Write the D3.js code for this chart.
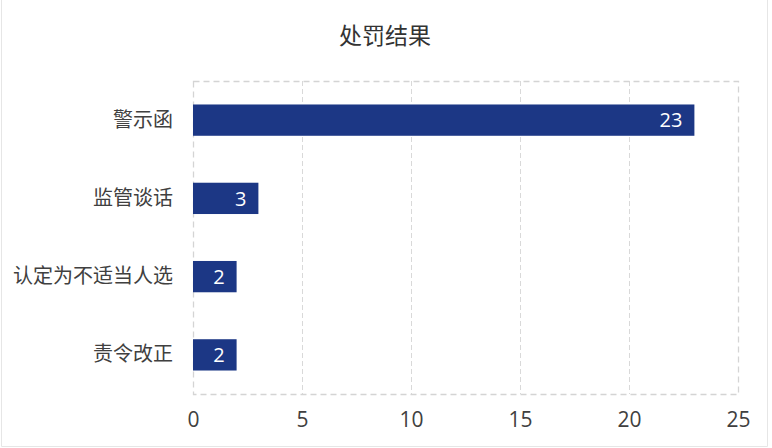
<!DOCTYPE html>
<html>
<head>
<meta charset="utf-8">
<script src="https://cdn.jsdelivr.net/npm/d3@7"></script>
<style>
  body { margin: 0; background: #fff; }
  svg { display: block; }
</style>
</head>
<body>
<div id="chart"></div>
<script>
// données
var categories = ["警示函", "监管谈话", "认定为不适当人选", "责令改正"];
var values = [23, 3, 2, 2];
var ticks = [0, 5, 10, 15, 20, 25];
var title = "处罚结果";

var W = 772, H = 448;
var plotL = 193, plotR = 738, plotT = 81, plotB = 394;
var cjk = "'Noto Sans CJK SC', 'Noto Sans', sans-serif";

var svg = d3.select("#chart").append("svg").attr("width", W).attr("height", H);

// bord de la carte
svg.append("path")
  .attr("d", "M1.5,0 V446.5 H767.5 V0")
  .style("fill", "none").style("stroke", "#e6e6e6").style("stroke-width", 1);

var x = d3.scaleLinear().domain([0, 25]).range([plotL, plotR]);
var y = d3.scaleBand().domain(categories).range([plotT, plotB]).paddingInner(0.6).paddingOuter(0.3);

// grille
svg.append("g").selectAll("line").data(ticks.slice(1, -1)).join("line")
  .attr("x1", d => x(d) + 0.5).attr("x2", d => x(d) + 0.5)
  .attr("y1", plotT).attr("y2", plotB)
  .style("stroke", "#d9d9d9").style("stroke-dasharray", "5,3");

svg.append("rect")
  .attr("x", plotL + 0.5).attr("y", plotT + 0.5)
  .attr("width", plotR - plotL).attr("height", plotB - plotT)
  .style("fill", "none").style("stroke", "#d4d4d4").style("stroke-width", 1.3)
  .style("stroke-dasharray", "6,4");

// barres
svg.append("g").selectAll("rect").data(values).join("rect")
  .attr("x", x(0))
  .attr("y", (d, i) => y(categories[i]))
  .attr("width", d => x(d) - x(0))
  .attr("height", y.bandwidth())
  .style("fill", "#1c3785");

// étiquettes dans les barres
svg.append("g").selectAll("text").data(values).join("text")
  .attr("x", d => x(d) - 12)
  .attr("y", (d, i) => y(categories[i]) + y.bandwidth() / 2)
  .attr("dy", "0.36em")
  .attr("text-anchor", "end")
  .style("font-family", "'Open Sans', 'Noto Sans', sans-serif")
  .style("font-size", "20px")
  .style("fill", "#fff")
  .text(d => d);

// axe Y
var yAxis = svg.append("g").attr("transform", "translate(" + (plotL - 20) + ",0)")
  .call(d3.axisLeft(y).tickSize(0).tickPadding(0));
yAxis.select(".domain").remove();
yAxis.selectAll("text")
  .style("font-family", cjk).style("font-size", "20px").style("fill", "#404040");

// axe X
var xAxis = svg.append("g").attr("transform", "translate(0," + (plotB + 18) + ")")
  .call(d3.axisBottom(x).tickValues(ticks).tickSize(0).tickPadding(0));
xAxis.select(".domain").remove();
xAxis.selectAll("text")
  .attr("dy", "0.71em")
  .style("font-family", "'Open Sans', 'Noto Sans', sans-serif").style("font-size", "21px").style("fill", "#404040");

// titre
svg.append("text")
  .attr("x", 385).attr("y", 36).attr("dy", "0.36em")
  .attr("text-anchor", "middle")
  .style("font-family", cjk).style("font-size", "23px").style("fill", "#333")
  .text(title);
</script>
</body>
</html>
